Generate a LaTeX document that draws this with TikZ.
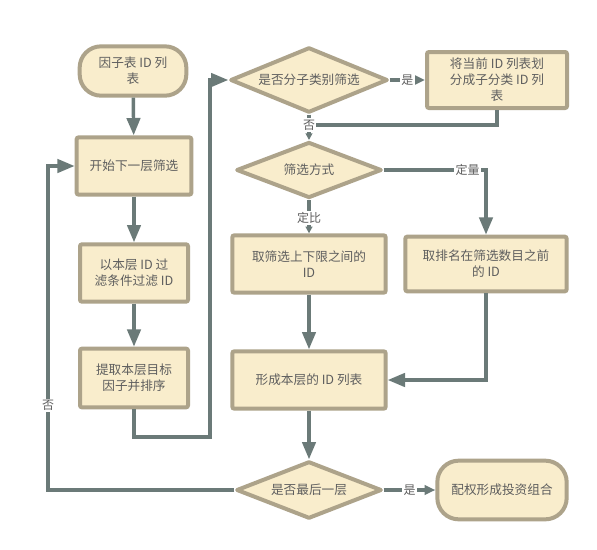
\documentclass[tikz,border=0pt]{standalone}
\usepackage{fontspec}
\newfontfamily\cjk{Noto Sans CJK SC}
\usetikzlibrary{positioning, arrows.meta, shapes.geometric}
\definecolor{Fill}{HTML}{F9EDCC}
\definecolor{Edge}{HTML}{ADA38A}
\definecolor{Wire}{HTML}{6B7A78}
\definecolor{Ink}{HTML}{5E5E5E}
\tikzset{
    procbox/.style={rectangle, draw=Edge, fill=Fill, line width=3pt, rounded corners=1.5pt, text=Ink, align=center, font=\cjk\fontsize{9.5}{12}\selectfont},
    termbox/.style={procbox, rounded corners=16pt},
    decide/.style={diamond, aspect=2.4, inner sep=0pt, draw=Edge, fill=Fill, line width=3pt, line join=round, text=Ink, font=\cjk\fontsize{9.5}{12}\selectfont},
    flow/.style={-{Triangle[length=13pt, width=10pt]}, line width=2.6pt, draw=Wire},
    shortflow/.style={flow, -{Triangle[length=8pt, width=7pt]}},
    tinyflow/.style={flow, -{Triangle[length=5pt, width=5pt]}},
    lbl/.style={fill=white, inner sep=1pt, text=Ink, font=\cjk\fontsize{9}{10}\selectfont},
}

\begin{document}
\begin{tikzpicture}[x=0.75pt, y=-0.75pt]
                % Sfondo e bordi
                \fill[white] (0,0) rectangle (597,550);
                \useasboundingbox (0,0) rectangle (597,550);

                % --- 1. COLONNA SINISTRA ---
                \node[termbox, minimum width=80pt, minimum height=37pt] (src) at (133,71) {因子表 ID 列\\表};
                \node[procbox, minimum width=86pt, minimum height=43pt] (next) at (134,166) {开始下一层筛选};
                \node[procbox, minimum width=81pt, minimum height=43pt] (filt) at (134,273) {以本层 ID 过\\滤条件过滤 ID};
                \node[procbox, minimum width=81pt, minimum height=44pt] (sort) at (134,378) {提取本层目标\\因子并排序};

                % --- 2. COLONNA DESTRA ---
                \node[decide, minimum width=118pt, minimum height=49pt] (dia1) at (309,80) {是否分子类别筛选};
                \node[procbox, minimum width=105pt, minimum height=42pt] (split) at (497,80) {将当前 ID 列表划\\分成子分类 ID 列\\表};
                \node[decide, minimum width=109pt, minimum height=42pt] (dia2) at (309,170) {筛选方式};
                \node[procbox, minimum width=115pt, minimum height=43pt] (range) at (309,264) {取筛选上下限之间的\\ID};
                \node[procbox, minimum width=121pt, minimum height=41pt] (rank) at (486,264) {取排名在筛选数目之前\\的 ID};
                \node[procbox, minimum width=115pt, minimum height=43pt] (form) at (309,380) {形成本层的 ID 列表};
                \node[decide, minimum width=109pt, minimum height=43pt] (dia3) at (309,490) {是否最后一层};
                \node[termbox, minimum width=97pt, minimum height=44pt] (port) at (502,490) {配权形成投资组合};

                % Punti di passaggio
                \coordinate (up) at (210,437);
                \coordinate (j1) at (309,125);
                \coordinate (lp) at (48,490);

                % --- 3. COLLEGAMENTI ---
                \draw[flow] (src) -- (next);
                \draw[flow] (next) -- (filt);
                \draw[flow] (filt) -- (sort);
                \draw[flow] (sort.south) |- (up) |- (dia1.west);
                \draw[shortflow] (dia1.east) -- node[lbl] {是} (split.west);
                \draw[line width=2.6pt, Wire] (split.south) |- (j1);
                \draw[tinyflow] (dia1.south) -- (j1) node[lbl] {否} -- (dia2.north);
                \draw[flow] (dia2.east) -| node[pos=0.41, lbl] {定量} (rank.north);
                \draw[tinyflow] (dia2.south) -- node[pos=0.53, lbl] {定比} (range.north);
                \draw[flow] (range) -- (form);
                \draw[flow] (rank.south) |- (form.east);
                \draw[flow] (form) -- (dia3);
                \draw[shortflow] (dia3.east) -- node[lbl] {是} (port.west);
                \draw[flow] (dia3.west) -- (lp) |- node[pos=0.13, lbl] {否} (next.west);

            \end{tikzpicture}
\end{document}
